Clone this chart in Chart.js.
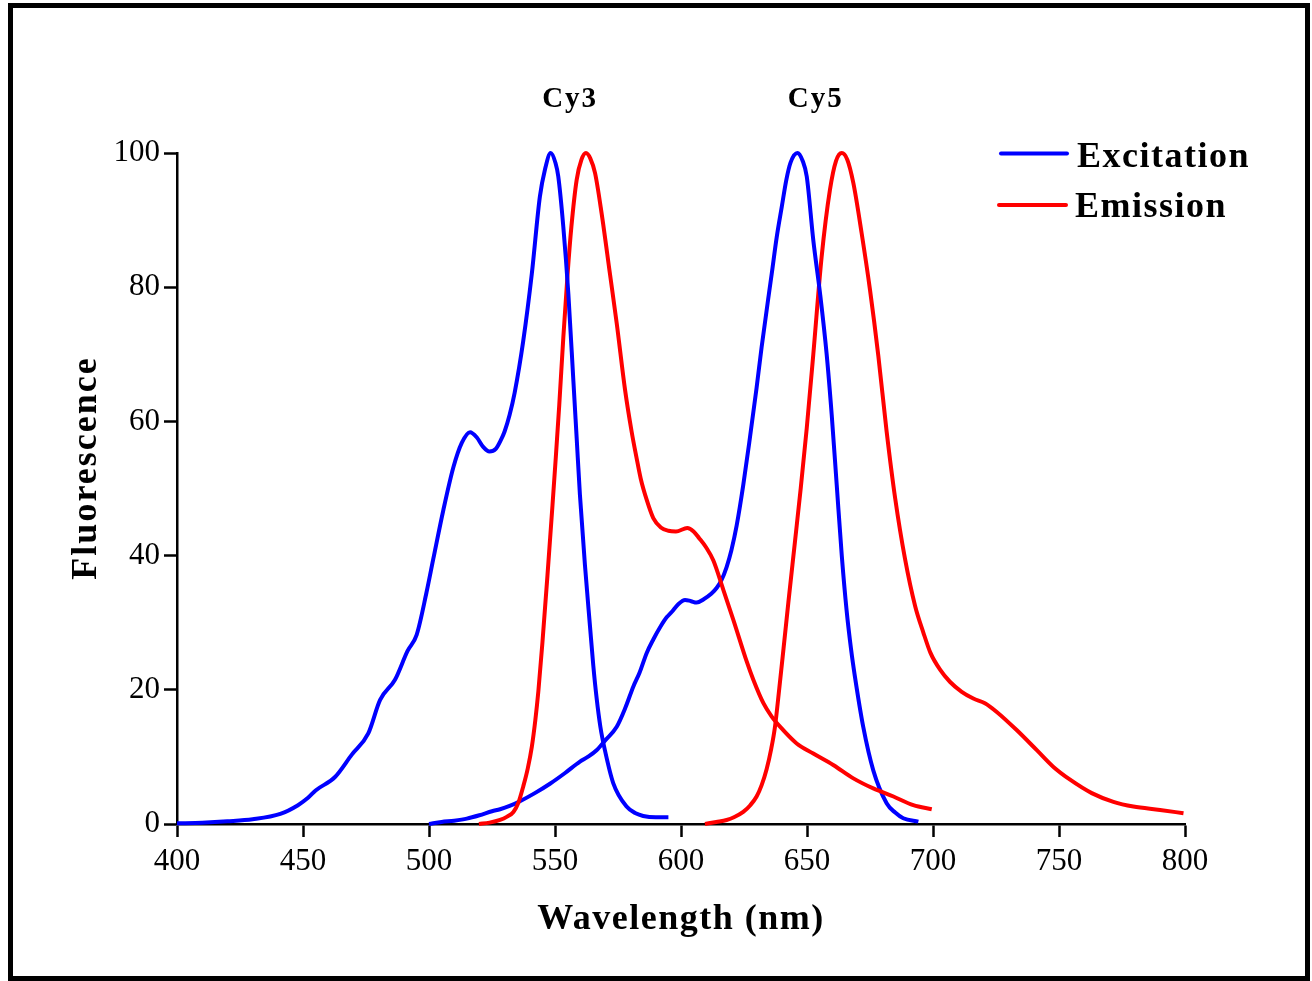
<!DOCTYPE html>
<html>
<head>
<meta charset="utf-8">
<title>Cy3 / Cy5 spectra</title>
<script src="https://cdn.jsdelivr.net/npm/chart.js@4.4.1/dist/chart.umd.min.js"></script>
<style>
  html, body { margin: 0; padding: 0; background: #fff; }
  canvas { display: block; }
</style>
</head>
<body>
<canvas id="spectra" width="1312" height="981"></canvas>
<script>
// wavelength (nm) / fluorescence pairs
const cy3ExWl = [400, 410, 420, 430, 441, 448, 452, 455, 462.7, 469.3, 475.9, 480.6, 486.5, 491.5, 495.1, 499, 501.7, 505.7, 509.7, 513, 516.3, 519, 521.5, 524, 526.5, 528.5, 530, 532, 534, 537.4, 540.8, 544, 546, 548.3, 550.2, 551.3, 553.3, 555.3, 557.3, 558.6, 559.9, 561.9, 563.9, 565.2, 566.5, 568, 569.8, 573.1, 578.4, 582, 585, 590, 595];
const cy3ExVal = [0.1, 0.2, 0.4, 0.7, 1.5, 2.8, 3.9, 5.0, 7.0, 10.3, 13.5, 18.5, 21.5, 25.8, 28.2, 34.5, 39.5, 46.8, 53.2, 56.8, 58.4, 57.6, 56.2, 55.5, 55.9, 57.2, 58.5, 61, 64.3, 72, 82, 93.5, 97.5, 100, 98.5, 96.5, 89, 79, 66, 57.5, 49, 38.5, 29.4, 23.6, 18.8, 14.5, 11, 6.1, 2.6, 1.6, 1.2, 1.0, 1.0];

const cy3EmWl = [519.8, 524, 528.2, 531, 533.5, 535.5, 537.4, 539.2, 540.8, 542.2, 543.4, 545, 547, 549, 550.2, 551.7, 553.3, 555, 556.5, 558.6, 560.5, 562.3, 564, 565.9, 568.5, 571.8, 574.5, 577.8, 580.4, 582.4, 584, 586.4, 589, 592, 595, 598, 602.5, 605, 607.2, 610, 612.8, 616.8, 620.8, 626.1, 628.7, 632.7, 636, 639.3, 645.9, 652.5, 660.4, 668.4, 676.3, 684.3, 692.2, 699.5];
const cy3EmVal = [0, 0.2, 0.6, 1.1, 1.8, 3.2, 5.6, 8.3, 11.5, 15.5, 19.8, 27, 37, 47.5, 54, 62.5, 72.5, 82, 89, 96, 99, 100, 99.2, 97, 91, 82, 74.6, 64.7, 58.5, 54.5, 51.5, 48.3, 45.6, 44.2, 43.7, 43.6, 44.1, 43.6, 42.6, 41.2, 39.3, 34.9, 30.4, 24.2, 21.5, 18, 16, 14.5, 12, 10.5, 8.8, 6.8, 5.3, 4.1, 2.8, 2.2];

const cy5ExWl = [500, 505, 510, 515, 520, 525, 528.2, 532, 536.1, 542, 548, 554, 559.9, 563, 566.5, 570, 574.5, 578, 581.1, 583.5, 586.4, 589, 592, 594.3, 596.3, 599, 601.6, 604, 606.2, 609, 612, 614.2, 616, 618.1, 620, 622.1, 624.7, 627.4, 630, 632, 636, 638, 640, 641.8, 643.5, 646.2, 648.3, 649.9, 652.5, 655.2, 657.8, 659.8, 661.8, 663.8, 665.7, 667.5, 669, 672.3, 676.3, 681.6, 685, 688.2, 694.2];
const cy5ExVal = [0, 0.3, 0.5, 0.8, 1.3, 1.9, 2.2, 2.7, 3.4, 4.6, 6.0, 7.6, 9.3, 10.0, 11.0, 12.5, 14.5, 17.4, 20.5, 22.5, 25.5, 27.5, 29.5, 30.8, 31.6, 32.8, 33.4, 33.2, 33.0, 33.5, 34.3, 35.2, 36.3, 38.3, 40.8, 44.5, 50.5, 57.7, 65, 71.1, 82, 87.5, 92, 96, 98.6, 100, 98.8, 96.5, 87, 79, 70, 61, 50.5, 40, 31.9, 26, 22, 14.5, 8, 3.1, 1.7, 0.85, 0.35];

const cy5EmWl = [609.5, 614, 618.1, 621, 624.7, 627.5, 630, 632, 634, 635.8, 637.3, 639, 640.7, 642.6, 645.2, 647.5, 649.9, 652.5, 655.8, 659.1, 661.5, 663.8, 666, 668.4, 671.7, 675, 678.3, 681.6, 685, 688.9, 692.9, 696.2, 699, 702.8, 706.7, 711.4, 716, 720.6, 725.3, 733.2, 741.2, 747.8, 754.4, 763, 771.6, 779.5, 790.1, 799.4];
const cy5EmVal = [0, 0.3, 0.6, 1.0, 1.8, 2.8, 4.1, 5.8, 8.2, 11.2, 14.5, 20.2, 26.2, 33, 42, 50, 59, 70, 84.5, 94.5, 98.8, 100, 99, 95.5, 88, 79.6, 69.8, 58.5, 48.5, 39.5, 32.5, 28.5, 25.5, 23, 21.2, 19.7, 18.7, 18, 16.7, 14, 11, 8.5, 6.6, 4.6, 3.3, 2.6, 2.1, 1.6];

const xTicks = [400, 450, 500, 550, 600, 650, 700, 750, 800];
const yTicks = [0, 20, 40, 60, 80, 100];

const dyeNames = ["Cy3", "Cy5"];
const dyeLabelWl = [556, 653.5];

const legendLabels = ["Excitation", "Emission"];

const EXC = "#0000ff";
const EMI = "#ff0000";
const SERIF = "'Liberation Serif', 'Times New Roman', serif";

function toPoints(xs, ys) {
  return xs.map((x, i) => ({ x: x, y: ys[i] }));
}

function spectrum(xs, ys, color) {
  return {
    data: toPoints(xs, ys),
    borderColor: color,
    borderWidth: 4,
    pointRadius: 0,
    fill: false,
    cubicInterpolationMode: "monotone",
    clip: false,
  };
}

// frame, dye names, custom legend and axis titles
const decorations = {
  id: "decorations",
  afterDraw(chart) {
    const ctx = chart.ctx;
    const xs = chart.scales.x;
    const area = chart.chartArea;

    ctx.save();
    ctx.strokeStyle = "#000";
    ctx.lineWidth = 5;
    ctx.strokeRect(10.5, 5.5, 1297, 973);

    ctx.fillStyle = "#000";
    ctx.textBaseline = "alphabetic";
    ctx.textAlign = "center";
    ctx.font = "bold 29px " + SERIF;
    ctx.letterSpacing = "2px";
    dyeNames.forEach((name, i) => {
      ctx.fillText(name, xs.getPixelForValue(dyeLabelWl[i]), 107);
    });

    // legend
    const legendColors = [EXC, EMI];
    const lineY = [153.5, 205];
    const textY = [166.5, 217];
    ctx.lineCap = "round";
    ctx.lineWidth = 4;
    ctx.textAlign = "left";
    ctx.font = "bold 36px " + SERIF;
    ctx.letterSpacing = "1.5px";
    legendLabels.forEach((label, i) => {
      ctx.strokeStyle = legendColors[i];
      ctx.beginPath();
      ctx.moveTo(1001 - i * 2, lineY[i]);
      ctx.lineTo(1067 - i, lineY[i]);
      ctx.stroke();
      ctx.fillText(label, 1077 - i * 2, textY[i]);
    });

    // axis titles
    ctx.textAlign = "center";
    ctx.font = "bold 36px " + SERIF;
    ctx.letterSpacing = "1.5px";
    ctx.fillText("Wavelength (nm)", (area.left + area.right) / 2, 929);

    ctx.translate(96, 468);
    ctx.rotate(-Math.PI / 2);
    ctx.letterSpacing = "2px";
    ctx.fillText("Fluorescence", 0, 0);
    ctx.restore();
  },
};

document.addEventListener("DOMContentLoaded", function () {
  const canvas = document.getElementById("spectra");

  const axisFont = { family: SERIF, size: 31 };
  const tickGrid = {
    drawOnChartArea: false,
    drawTicks: true,
    tickLength: 13,
    tickWidth: 2.5,
    tickColor: "#000",
    color: "#000",
  };
  const axisBorder = { display: true, color: "#000", width: 2.5 };

  new Chart(canvas.getContext("2d"), {
    type: "line",
    data: {
      datasets: [
        spectrum(cy3ExWl, cy3ExVal, EXC),
        spectrum(cy3EmWl, cy3EmVal, EMI),
        spectrum(cy5ExWl, cy5ExVal, EXC),
        spectrum(cy5EmWl, cy5EmVal, EMI),
      ],
    },
    options: {
      responsive: false,
      animation: false,
      devicePixelRatio: 1,
      layout: { padding: { left: 27, right: 127, top: 153, bottom: 17 } },
      plugins: {
        legend: { display: false },
        tooltip: { enabled: false },
      },
      scales: {
        x: {
          type: "linear",
          min: xTicks[0],
          max: xTicks[xTicks.length - 1],
          afterBuildTicks: (scale) => { scale.ticks = xTicks.map((v) => ({ value: v })); },
          afterFit: (scale) => { scale.height = 140; },
          ticks: { font: axisFont, color: "#000", padding: 6, maxRotation: 0, autoSkip: false },
          grid: tickGrid,
          border: axisBorder,
        },
        y: {
          min: yTicks[0],
          max: yTicks[yTicks.length - 1],
          afterBuildTicks: (scale) => { scale.ticks = yTicks.map((v) => ({ value: v })); },
          afterFit: (scale) => { scale.width = 150; },
          ticks: { font: axisFont, color: "#000", padding: 4 },
          grid: tickGrid,
          border: axisBorder,
        },
      },
    },
    plugins: [decorations],
  });
});
</script>
</body>
</html>
